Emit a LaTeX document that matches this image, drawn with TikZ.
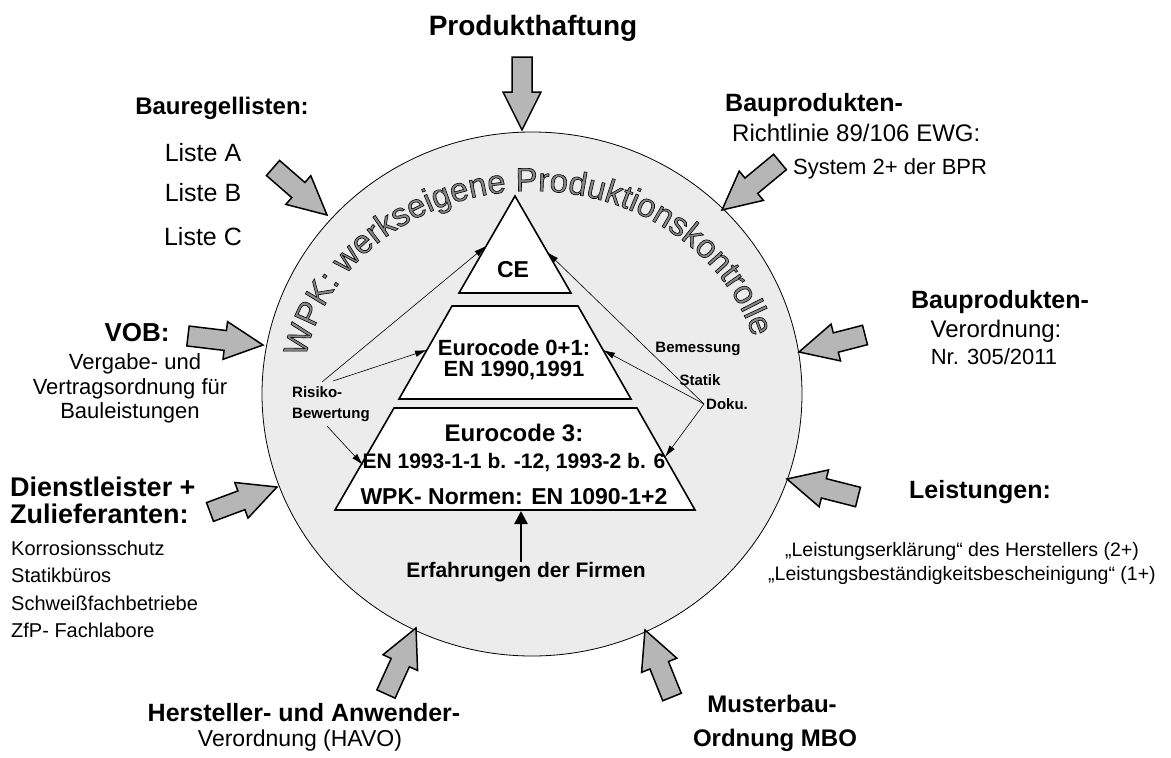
\documentclass[tikz,border=0pt]{standalone}
\usepackage{fontspec}
\setmainfont{Liberation Sans}
\newfontfamily\outl[FakeBold=1.8]{Liberation Sans}
\usetikzlibrary{calc,arrows.meta,decorations.text}
\definecolor{circfill}{RGB}{236,236,236}
\definecolor{arrfill}{RGB}{182,182,182}
\definecolor{txtgray}{RGB}{135,135,135}
\newcommand\fs[1]{\fontsize{#1}{#1}\selectfont}
\tikzset{
  blk/.style={fill=arrfill, draw=black, line width=1.5pt, line join=miter},
  lbl/.style={inner sep=0pt, font=\fs{22}},
  hd/.style={inner sep=0pt, font=\bfseries\fs{25}},
  pyr/.style={fill=white, draw=black, line width=1.6pt, line join=miter},
  thinarr/.style={draw=black, line width=0.6pt, -{Latex[length=12pt,width=6.5pt]}},
  pyt/.style={inner sep=0pt, font=\bfseries\fs{22}},
  small/.style={inner sep=0pt, font=\bfseries\fs{15}},
}
\newcommand\barrow[2]{%
  \draw[blk] let \p1=(#1), \p2=(#2), \n1={atan2(\y2-\y1,\x2-\x1)}, \n2={veclen(\x2-\x1,\y2-\y1)} in
  ($(#1)+(\n1+90:10)$) -- ($(#1)+(\n1:\n2-38)+(\n1+90:10)$) -- ($(#1)+(\n1:\n2-38)+(\n1+90:19)$)
  -- (#2) -- ($(#1)+(\n1:\n2-38)+(\n1-90:19)$) -- ($(#1)+(\n1:\n2-38)+(\n1-90:10)$)
  -- ($(#1)+(\n1-90:10)$) -- cycle;}
\begin{document}
\begin{tikzpicture}[x=1pt,y=1pt]
\useasboundingbox (0,-758) rectangle (1171,0);
% circle
\coordinate (cc) at (532,-394);
\draw[fill=circfill, draw=black, line width=0.8pt] (cc) ellipse[x radius=270, y radius=262];
% curved title
\path[decorate, decoration={text along path, text align=center,
  text={|\outl\fs{33}\color{txtgray}\special{pdf:literal direct 0 G}|WPK: werkseigene Produktionskontrolle}}]
  ($(cc)+(183:230 and 203)$) arc[start angle=183, end angle=3, x radius=230, y radius=203];
% pyramid
\draw[pyr] (515,-196) -- (571,-293) -- (459,-293) -- cycle;
\draw[pyr] (452,-306) -- (578,-306) -- (631,-399) -- (399,-399) -- cycle;
\draw[pyr] (394,-408) -- (637,-408) -- (695,-510) -- (335,-510) -- cycle;
\node[inner sep=0pt, font=\bfseries\fs{23}] (ce) at (513,-270) {CE};
\node[pyt] (ec01) at (514,-348) {Eurocode 0+1:};
\node[pyt] (en90) at (514,-371) {EN 1990,1991};
\node[pyt, font=\bfseries\fs{24}] (ec3) at (514,-433) {Eurocode 3:};
\node[pyt, font=\bfseries\fs{21}] (en93) at (514,-463) {EN 1993-1-1 b. -12, 1993-2 b. 6};
\node[pyt, font=\bfseries\fs{23}] (wpkn) at (514,-497) {WPK- Normen: EN 1090-1+2};
% experiences
\node[small, font=\bfseries\fs{21}] (erf) at (526,-572) {Erfahrungen der Firmen};
\coordinate (erfend) at (521,-511);
\draw[line width=2.6pt, -{Triangle[length=13pt,width=13pt]}] (erf.north -| erfend) -- (erfend);
% risk labels
\node[small, anchor=west] (risk) at (292,-392) {Risiko-};
\node[small, anchor=west] (bew) at (292,-415) {Bewertung};
\coordinate (r1) at (322,-382); \coordinate (r2) at (333,-381); \coordinate (r3) at (327,-426);
\coordinate (ceL) at (486,-246); \coordinate (t2L) at (427,-350); \coordinate (t3L) at (363,-465);
\draw[thinarr] (r1) -- (ceL);
\draw[thinarr] (r2) -- (t2L);
\draw[thinarr] (r3) -- (t3L);
\node[small] (bem) at (698,-349) {Bemessung};
\node[small] (stat) at (700,-380) {Statik};
\node[small, anchor=west] (doku) at (706,-404) {Doku.};
\coordinate (dk) at (704,-404);
\coordinate (ceR) at (547,-252); \coordinate (t2R) at (603,-350); \coordinate (t3R) at (665,-457);
\draw[thinarr] (dk) -- (ceR);
\draw[thinarr] (dk) -- (t2R);
\draw[thinarr] (dk) -- (t3R);
% outer labels
\node[hd, font=\bfseries\fs{28}] (prod) at (533,-28) {Produkthaftung};
\node[hd, font=\bfseries\fs{24}] (brl) at (222,-108) {Bauregellisten:};
\node[lbl, font=\fs{25}] (la) at (203,-153) {Liste A};
\node[lbl, font=\fs{25}] (lb) at (203,-193) {Liste B};
\node[lbl, font=\fs{25}] (lc) at (203,-237) {Liste C};
\node[hd, anchor=west] (bp1) at (725,-105) {Bauprodukten-};
\node[lbl, anchor=west, font=\fs{24}] (rl) at (732,-133) {Richtlinie 89/106 EWG:};
\node[lbl, anchor=west] (sys) at (793,-169) {System 2+ der BPR};
\node[hd, font=\bfseries\fs{26}] (vob) at (137,-333) {VOB:};
\node[lbl] (vob1) at (135,-364) {Vergabe- und};
\node[lbl] (vob2) at (130,-389) {Vertragsordnung für};
\node[lbl] (vob3) at (130,-413) {Bauleistungen};
\node[hd, anchor=west, font=\bfseries\fs{27}] (dl1) at (10,-487) {Dienstleister +};
\node[hd, anchor=west, font=\bfseries\fs{27}] (dl2) at (10,-514) {Zulieferanten:};
\node[lbl, anchor=west, font=\fs{20}] (k1) at (11,-548) {Korrosionsschutz};
\node[lbl, anchor=west, font=\fs{20}] (k2) at (11,-575) {Statikbüros};
\node[lbl, anchor=west, font=\fs{20}] (k3) at (11,-603) {Schweißfachbetriebe};
\node[lbl, anchor=west, font=\fs{20}] (k4) at (11,-630) {ZfP- Fachlabore};
\node[hd] (bp2) at (1000,-302) {Bauprodukten-};
\node[lbl, font=\fs{24}] (vo) at (996,-331) {Verordnung:};
\node[lbl, font=\fs{22}] (nr) at (994,-357) {Nr. 305/2011};
\node[hd] (leis) at (980,-492) {Leistungen:};
\node[lbl, font=\fs{19.5}] (le1) at (962,-551) {„Leistungserklärung“ des Herstellers (2+)};
\node[lbl, font=\fs{19.5}] (le2) at (962,-575) {„Leistungsbeständigkeitsbescheinigung“ (1+)};
\node[hd] (hav1) at (304,-713) {Hersteller- und Anwender-};
\node[lbl, font=\fs{23}] (hav2) at (300,-741) {Verordnung (HAVO)};
\node[hd, font=\bfseries\fs{24}] (mbo1) at (772,-704) {Musterbau-};
\node[hd, font=\bfseries\fs{24}] (mbo2) at (775,-740) {Ordnung MBO};
% block arrows
\coordinate (a1t) at (522,-57);  \coordinate (a1h) at (522,-130);
\coordinate (a2t) at (273,-168); \coordinate (a2h) at (327,-215);
\coordinate (a3t) at (780,-162); \coordinate (a3h) at (722,-210);
\coordinate (a4t) at (188,-336); \coordinate (a4h) at (263,-345);
\coordinate (a5t) at (210,-512); \coordinate (a5h) at (277,-487);
\coordinate (a6t) at (865,-335); \coordinate (a6h) at (799,-352);
\coordinate (a7t) at (858,-497); \coordinate (a7h) at (787,-479);
\coordinate (a8t) at (386,-694); \coordinate (a8h) at (416,-628);
\coordinate (a9t) at (672,-697); \coordinate (a9h) at (645,-630);
\barrow{a1t}{a1h}\barrow{a2t}{a2h}\barrow{a3t}{a3h}
\barrow{a4t}{a4h}\barrow{a5t}{a5h}\barrow{a6t}{a6h}
\barrow{a7t}{a7h}\barrow{a8t}{a8h}\barrow{a9t}{a9h}
\end{tikzpicture}
\end{document}
